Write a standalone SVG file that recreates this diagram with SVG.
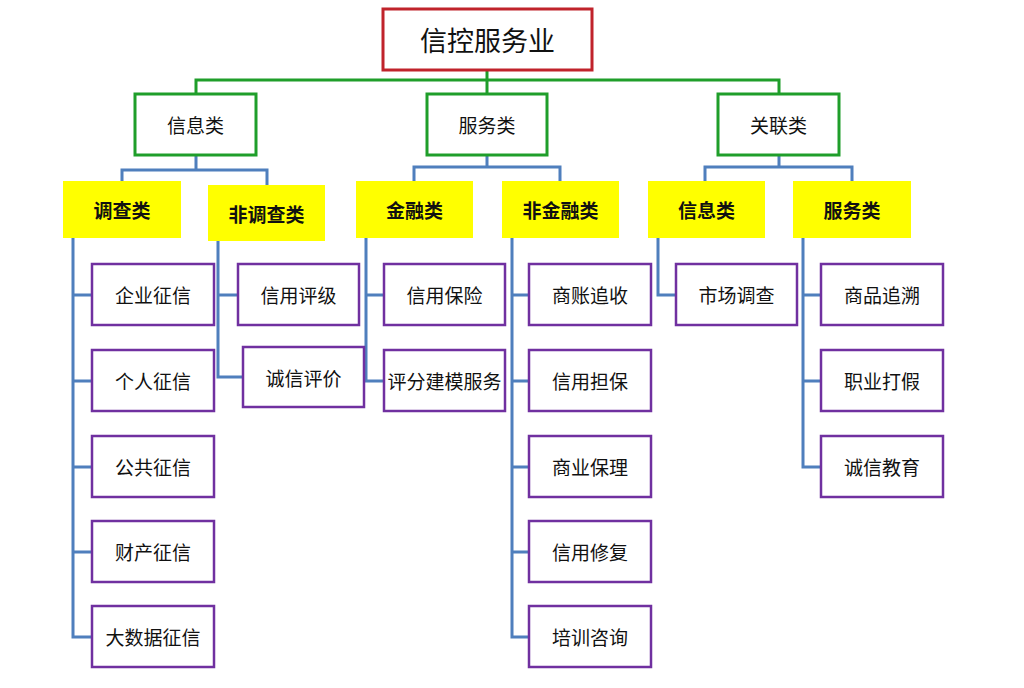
<svg xmlns="http://www.w3.org/2000/svg" width="1024" height="688" viewBox="0 0 1024 688">
<style>
text{font-family:"Noto Sans CJK SC","Noto Sans",sans-serif;fill:#111;text-anchor:middle;dominant-baseline:central;font-size:19px}
.root rect{fill:#fff;stroke:#c0232b;stroke-width:3}
.root text{font-size:27px}
.l1 rect{fill:#fff;stroke:#1f9e2a;stroke-width:3}
.l2 rect{fill:#ffff00;stroke:none}
.l2 text{font-weight:bold}
.leaf rect{fill:#fff;stroke:#7030a0;stroke-width:2.5}
.g{fill:none;stroke:#1f9e2a;stroke-width:3}
.b{fill:none;stroke:#4f7fbd;stroke-width:3}
</style>
<rect width="1024" height="688" fill="#fff"/>
<g id="connectors">
<path class="g" d="M487,70V80M196,94V80H779V94M487,80V94"/>
<path class="b" d="M196,155V170M122,181V170H267V185"/>
<path class="b" d="M487,155V167M414,181V167H560V181"/>
<path class="b" d="M779,155V167M705,181V167H852V181"/>
<path class="b" d="M73,238V637H92M73,295H92M73,381H92M73,467H92M73,552H92"/>
<path class="b" d="M218,241V377H243M218,295H238"/>
<path class="b" d="M366,238V381H384M366,295H384"/>
<path class="b" d="M512,238V637H529M512,295H529M512,381H529M512,467H529M512,552H529"/>
<path class="b" d="M658,238V295H676"/>
<path class="b" d="M803,238V467H821M803,295H821M803,381H821"/>
</g>
<g id="root" class="root"><rect x="383" y="9" width="209" height="61"/><text x="487.5" y="39.5">信控服务业</text></g>
<g id="n-info" class="l1"><rect x="135" y="94" width="121" height="61"/><text x="195.5" y="124.5">信息类</text></g>
<g id="n-service" class="l1"><rect x="427" y="94" width="120" height="61"/><text x="487" y="124.5">服务类</text></g>
<g id="n-related" class="l1"><rect x="718" y="94" width="121" height="61"/><text x="778.5" y="124.5">关联类</text></g>
<g id="n-survey" class="l2"><rect x="63" y="181" width="118" height="57"/><text x="122" y="209.5">调查类</text></g>
<g id="n-nonsurvey" class="l2"><rect x="208" y="185" width="117" height="56"/><text x="266.5" y="213">非调查类</text></g>
<g id="n-fin" class="l2"><rect x="356" y="181" width="117" height="57"/><text x="414.5" y="209.5">金融类</text></g>
<g id="n-nonfin" class="l2"><rect x="502" y="181" width="117" height="57"/><text x="560.5" y="209.5">非金融类</text></g>
<g id="n-info2" class="l2"><rect x="648" y="181" width="117" height="57"/><text x="706.5" y="209.5">信息类</text></g>
<g id="n-service2" class="l2"><rect x="793" y="181" width="118" height="57"/><text x="852" y="209.5">服务类</text></g>
<g id="a1" class="leaf"><rect x="92" y="264" width="122" height="61"/><text x="153" y="294.5">企业征信</text></g>
<g id="a2" class="leaf"><rect x="92" y="350" width="122" height="61"/><text x="153" y="380.5">个人征信</text></g>
<g id="a3" class="leaf"><rect x="92" y="436" width="122" height="61"/><text x="153" y="466.5">公共征信</text></g>
<g id="a4" class="leaf"><rect x="92" y="521" width="122" height="61"/><text x="153" y="551.5">财产征信</text></g>
<g id="a5" class="leaf"><rect x="92" y="606" width="122" height="61"/><text x="153" y="636.5">大数据征信</text></g>
<g id="b1" class="leaf"><rect x="238" y="264" width="121" height="61"/><text x="298.5" y="294.5">信用评级</text></g>
<g id="b2" class="leaf"><rect x="243" y="347" width="121" height="60"/><text x="303.5" y="377">诚信评价</text></g>
<g id="c1" class="leaf"><rect x="384" y="264" width="121" height="61"/><text x="444.5" y="294.5">信用保险</text></g>
<g id="c2" class="leaf"><rect x="384" y="350" width="121" height="61"/><text x="444.5" y="380.5">评分建模服务</text></g>
<g id="d1" class="leaf"><rect x="529" y="264" width="122" height="61"/><text x="590" y="294.5">商账追收</text></g>
<g id="d2" class="leaf"><rect x="529" y="350" width="122" height="61"/><text x="590" y="380.5">信用担保</text></g>
<g id="d3" class="leaf"><rect x="529" y="436" width="122" height="61"/><text x="590" y="466.5">商业保理</text></g>
<g id="d4" class="leaf"><rect x="529" y="521" width="122" height="61"/><text x="590" y="551.5">信用修复</text></g>
<g id="d5" class="leaf"><rect x="529" y="606" width="122" height="61"/><text x="590" y="636.5">培训咨询</text></g>
<g id="e1" class="leaf"><rect x="676" y="264" width="121" height="61"/><text x="736.5" y="294.5">市场调查</text></g>
<g id="f1" class="leaf"><rect x="821" y="264" width="122" height="61"/><text x="882" y="294.5">商品追溯</text></g>
<g id="f2" class="leaf"><rect x="821" y="350" width="122" height="61"/><text x="882" y="380.5">职业打假</text></g>
<g id="f3" class="leaf"><rect x="821" y="436" width="122" height="61"/><text x="882" y="466.5">诚信教育</text></g>
</svg>
